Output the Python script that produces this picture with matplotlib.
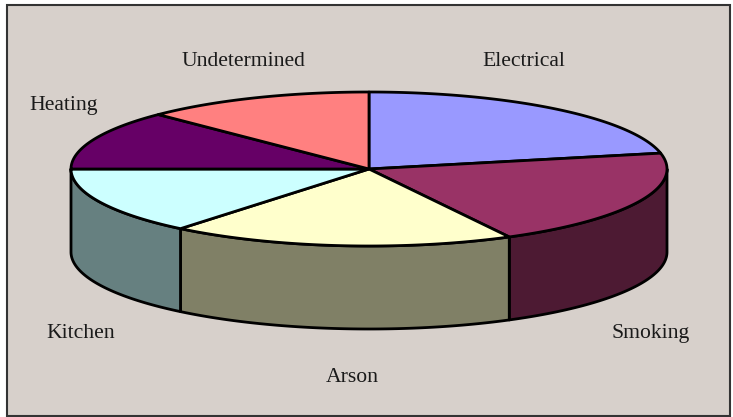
import numpy as np
import matplotlib
matplotlib.use("Agg")
import matplotlib.pyplot as plt
from matplotlib.patches import Rectangle, Polygon

categories = ["Electrical", "Smoking", "Arson", "Kitchen", "Heating", "Undetermined"]
values = [21.7, 20.5, 18.7, 14.1, 12.5, 12.5]
top_colors = ["#9999FF", "#993366", "#FFFFCC", "#CCFFFF", "#660066", "#FF8080"]
side_colors = ["#4D4D80", "#4D1A33", "#808066", "#668080", "#330033", "#804040"]
label_pos = [(523.5, 61.5), (651, 333.5), (352.5, 377.5), (80.5, 333.5), (64, 105.5), (243.5, 61.5)]

W, H = 733, 417
CX, CY, RX, RY, DEPTH = 369, 169, 298, 77, 83
LW = 2.0

fig = plt.figure(figsize=(W / 100, H / 100), dpi=100, facecolor="white")
ax = fig.add_axes([0, 0, 1, 1])
ax.set_xlim(0, W)
ax.set_ylim(H, 0)
ax.axis("off")
ax.add_patch(Rectangle((7, 5), 723, 411, fc="#D7D0CB", ec="#333333", lw=1.5, zorder=0))

def arc(a, b, dy=0):
    t = np.radians(np.linspace(a, b, max(int(abs(b - a) * 2), 2)))
    return np.column_stack([CX + RX * np.cos(t), CY + dy - RY * np.sin(t)])

fr = np.array(values) / sum(values)
ends = 90 - 360 * np.cumsum(fr)
starts = np.r_[90, ends[:-1]]

# front walls (visible where the rim is below the centre: angles -180..0)
for s, e, c in zip(starts, ends, side_colors):
    lo, hi = max(e, -180), min(s, 0)
    if hi > lo:
        top = arc(hi, lo)
        bot = arc(lo, hi, DEPTH)
        ax.add_patch(Polygon(np.vstack([top, bot]), closed=True, fc=c, ec="black",
                             lw=LW, joinstyle="round", zorder=2))

# top faces
for s, e, c in zip(starts, ends, top_colors):
    pts = np.vstack([[CX, CY], arc(s, e)])
    ax.add_patch(Polygon(pts, closed=True, fc=c, ec="black", lw=LW,
                         joinstyle="round", zorder=3))

for name, (x, y) in zip(categories, label_pos):
    ax.text(x, y, name, ha="center", va="center", family="Liberation Serif",
            fontsize=15.6, color="#1a1a1a", zorder=4)

fig.savefig("out.png", dpi=100, facecolor="white")
